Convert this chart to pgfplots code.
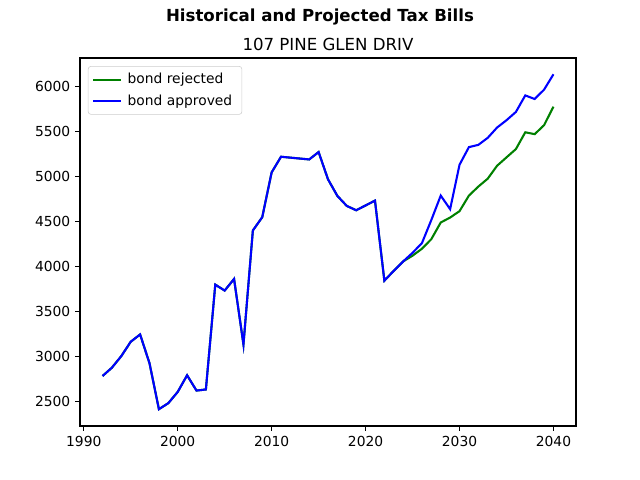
\documentclass[border=0pt]{standalone}
\usepackage{pgfplots}
\pgfplotsset{compat=1.18}
\usepackage{fontspec}
\setmainfont{DejaVu Sans}
\definecolor{mgreen}{HTML}{008000}
\definecolor{mblue}{HTML}{0000FF}
\begin{document}
\begin{tikzpicture}[x=1in,y=1in]
\path (0,0) rectangle (6.4,4.8);
\node[font=\bfseries\fontsize{12}{14}\selectfont] at (3.2,4.63) {Historical and Projected Tax Bills};
\node[font=\fontsize{12}{14}\selectfont] at (3.28,4.36) {107 PINE GLEN DRIV};
\begin{axis}[
  at={(0.80in,0.54in)}, anchor=south west,
  scale only axis, width=4.96in, height=3.68in,
  xmin=1989.6, xmax=2042.4, ymin=2224, ymax=6316,
  xtick={1990,2000,2010,2020,2030,2040},
  ytick={2500,3000,3500,4000,4500,5000,5500,6000},
  /pgf/number format/1000 sep={},
  /pgf/number format/assume math mode=true,
  tick label style={font=\fontsize{10}{12}\selectfont},
  tick align=outside, xtick pos=left, ytick pos=left,
  major tick length=3.5pt,
  every tick/.style={black, line width=0.8pt},
  axis line style={line width=0.8pt},
  legend style={at={(0.016,0.978)}, anchor=north west, font=\fontsize{10}{12}\selectfont,
    draw=black!20, rounded corners=2pt, inner xsep=3pt, inner ysep=3pt, row sep=2.5pt,
    nodes={inner xsep=4pt}},
  legend cell align=left,
  legend image code/.code={\draw[#1] (0pt,0pt) -- (20pt,0pt);},
]
\addplot[mgreen, line width=1.5pt] coordinates {
(1992,2780)(1993,2873)(1994,3002)(1995,3161)(1996,3242)(1997,2921)(1998,2411)(1999,2478)
(2000,2603)(2001,2788)(2002,2618)(2003,2630)(2004,3796)(2005,3730)(2006,3859)(2007,3131)
(2008,4398)(2009,4546)(2010,5044)(2011,5218)(2014,5188)(2015,5270)(2016,4967)(2017,4782)
(2018,4671)(2019,4623)(2021,4730)(2022,3840)(2023,3950)(2024,4054)
(2025,4118)(2026,4195)(2027,4302)(2028,4487)(2029,4542)(2030,4613)(2031,4786)(2032,4886)
(2033,4974)(2034,5118)(2035,5211)(2036,5303)(2037,5490)(2038,5469)(2039,5569)(2040,5775)
};
\addlegendentry{bond rejected}
\addplot[mblue, line width=1.5pt] coordinates {
(1992,2780)(1993,2873)(1994,3002)(1995,3161)(1996,3242)(1997,2921)(1998,2411)(1999,2478)
(2000,2603)(2001,2788)(2002,2618)(2003,2630)(2004,3796)(2005,3730)(2006,3859)(2007,3131)
(2008,4398)(2009,4546)(2010,5044)(2011,5218)(2014,5188)(2015,5270)(2016,4967)(2017,4782)
(2018,4671)(2019,4623)(2021,4730)(2022,3840)(2023,3950)(2024,4054)
(2025,4150)(2026,4258)(2027,4515)(2028,4786)(2029,4635)(2030,5129)(2031,5325)(2032,5350)
(2033,5428)(2034,5543)(2035,5624)(2036,5716)(2037,5900)(2038,5860)(2039,5964)(2040,6135)
};
\addlegendentry{bond approved}
\end{axis}
\end{tikzpicture}
\end{document}
